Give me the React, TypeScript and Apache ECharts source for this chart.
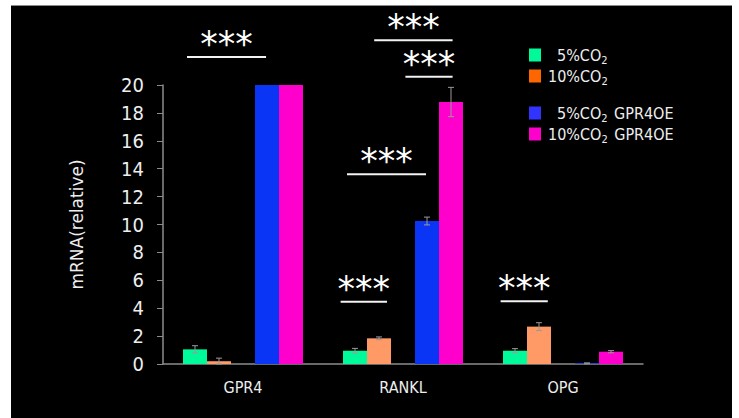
import React, { useEffect, useRef } from "react";
import * as echarts from "echarts";

// mRNA expression (relative) per gene under each culture condition
const categories = ["GPR4", "RANKL", "OPG"];
const seriesNames = ["5%CO2", "10%CO2", "5%CO2 GPR4OE", "10%CO2 GPR4OE"];
const co2Low = [1.05, 0.95, 0.95];
const co2LowErr = [0.26, 0.17, 0.15];
const co2High = [0.2, 1.84, 2.68];
const co2HighErr = [0.22, 0.1, 0.28];
const oeLow = [20, 10.25, 0.05];
const oeLowErr = [0, 0.28, 0.03];
const oeHigh = [20, 18.78, 0.88];
const oeHighErr = [0, 1.05, 0.08];

// significance brackets: category, span (fraction of category band), height
const sigCategory = [0, 1, 1, 1, 1, 2];
const sigFrom = [-0.35, -0.18, 0.015, -0.35, -0.39, -0.39];
const sigTo = [0.144, 0.31, 0.31, 0.144, -0.1, -0.095];
const sigLevel = [22, 23.2, 20.6, 13.6, 4.47, 4.5];
const sigMark = "***";

const yTicks = { min: 0, max: 20, interval: 2 };

const barColors = ["#00FA9A", "#FF9966", "#0B35F5", "#FF00CC"];
const legendColors = ["#00FA9A", "#FF6600", "#3333FF", "#FF00CC"];

const COND = '"DejaVu Sans Condensed", "Liberation Sans Narrow", sans-serif';
const BAR_FRAC = 0.15;

export default function App() {
  const ref = useRef<HTMLDivElement>(null);

  useEffect(() => {
    if (!ref.current) return;
    const chart = echarts.init(ref.current, null, { renderer: "svg" });

    const groups = [
      { vals: co2Low, errs: co2LowErr, slot: 0 },
      { vals: co2High, errs: co2HighErr, slot: 1 },
      { vals: oeLow, errs: oeLowErr, slot: 3 },
      { vals: oeHigh, errs: oeHighErr, slot: 4 },
    ];

    const barSeries: any[] = groups.map((g, i) => ({
      type: "bar",
      name: seriesNames[i],
      data: g.vals,
      barWidth: BAR_FRAC * 100 + "%",
      barGap: "0%",
      itemStyle: { color: barColors[i] },
      z: 2,
    }));
    // empty slot between the control and overexpression pairs
    barSeries.splice(2, 0, {
      type: "bar",
      name: "gap",
      data: categories.map(() => null),
      barWidth: BAR_FRAC * 100 + "%",
      barGap: "0%",
    });

    const errorSeries = groups.map((g) => ({
      type: "custom",
      data: categories.map((_, c) => [c, g.vals[c], g.errs[c]]),
      encode: { x: 0, y: 1 },
      z: 5,
      renderItem: (params: any, api: any) => {
        const cat = api.value(0);
        const v = api.value(1);
        const e = api.value(2);
        if (!e) return null;
        const band = api.size([1, 0])[0];
        const x = api.coord([cat, v])[0] + (g.slot - 2) * band * BAR_FRAC;
        const top = api.coord([cat, v + e])[1];
        const bot = api.coord([cat, Math.max(0, v - e)])[1];
        const st = { stroke: "#9a9a9a", lineWidth: 1 };
        return {
          type: "group",
          children: [
            { type: "line", shape: { x1: x, y1: top, x2: x, y2: bot }, style: st },
            { type: "line", shape: { x1: x - 3, y1: top, x2: x + 3, y2: top }, style: st },
            { type: "line", shape: { x1: x - 3, y1: bot, x2: x + 3, y2: bot }, style: st },
          ],
        };
      },
    }));

    const sigSeries = {
      type: "custom",
      data: sigCategory.map((c, i) => [c, sigFrom[i], sigTo[i], sigLevel[i]]),
      encode: { x: 0, y: 3 },
      z: 6,
      renderItem: (params: any, api: any) => {
        const cat = api.value(0);
        const band = api.size([1, 0])[0];
        const p = api.coord([cat, api.value(3)]);
        const x0 = p[0] + api.value(1) * band;
        const x1 = p[0] + api.value(2) * band;
        return {
          type: "group",
          children: [
            {
              type: "line",
              shape: { x1: x0, y1: p[1], x2: x1, y2: p[1] },
              style: { stroke: "#f2f2f2", lineWidth: 2 },
            },
            {
              type: "text",
              x: (x0 + x1) / 2,
              y: p[1] - 13,
              style: {
                text: sigMark,
                fill: "#ffffff",
                font: '35px "DejaVu Sans", sans-serif',
                align: "center",
                verticalAlign: "middle",
              },
            },
          ],
        };
      },
    };

    const legendText = {
      color: "#eeeeee",
      fontFamily: COND,
      rich: {
        n: { fontSize: 16, lineHeight: 22, fontFamily: COND, color: "#eeeeee", padding: [0, 0, 0, 2] },
        m: { fontSize: 16, lineHeight: 22, fontFamily: COND, color: "#eeeeee", padding: [0, 0, 0, 11] },
        s: { fontSize: 11, lineHeight: 14, fontFamily: COND, color: "#eeeeee", verticalAlign: "bottom" },
      },
    };
    const legendFormatter = (name: string) => {
      const [head, tail] = name.split("CO2");
      const style = head.length < 3 ? "m" : "n";
      return `{${style}|${head}CO}{s|2}` + (tail ? `{n|${tail}}` : "");
    };
    const mkLegend = (names: string[], colors: string[], top: number) => ({
      orient: "vertical",
      left: 529,
      top,
      padding: 0,
      itemWidth: 12,
      itemHeight: 13,
      itemGap: 2,
      icon: "rect",
      selectedMode: false,
      data: names.map((n, i) => ({ name: n, itemStyle: { color: colors[i] } })),
      formatter: legendFormatter,
      textStyle: legendText,
    });

    chart.setOption({
      animation: false,
      backgroundColor: "#ffffff",
      graphic: [
        {
          type: "rect",
          z: -10,
          shape: { x: 11, y: 5, width: 721, height: 413 },
          style: { fill: "#000000" },
        },
        {
          type: "line",
          z: -9,
          shape: { x1: 11, y1: 5.5, x2: 732, y2: 5.5 },
          style: { stroke: "#8a8a8a", lineWidth: 1 },
        },
      ],
      legend: [
        mkLegend(seriesNames.slice(0, 2), legendColors.slice(0, 2), 47),
        mkLegend(seriesNames.slice(2), legendColors.slice(2), 105),
      ],
      grid: { left: 163, right: 96, top: 85, bottom: 54 },
      xAxis: {
        type: "category",
        data: categories,
        axisLine: { lineStyle: { color: "#8c8c8c", width: 1.5 } },
        axisTick: { show: false },
        axisLabel: { color: "#eeeeee", fontFamily: COND, fontSize: 16, margin: 15 },
      },
      yAxis: {
        type: "value",
        min: yTicks.min,
        max: yTicks.max,
        interval: yTicks.interval,
        name: "mRNA(relative)",
        nameLocation: "middle",
        nameRotate: 90,
        nameGap: 78,
        nameTextStyle: { color: "#eeeeee", fontFamily: '"DejaVu Sans", sans-serif', fontSize: 17 },
        splitLine: { show: false },
        axisLine: { show: true, lineStyle: { color: "#8c8c8c", width: 1.5 } },
        axisTick: { show: true, length: 6, lineStyle: { color: "#8c8c8c" } },
        axisLabel: { color: "#eeeeee", fontFamily: COND, fontSize: 20, margin: 19 },
      },
      series: [...barSeries, ...errorSeries, sigSeries],
    });

    return () => chart.dispose();
  }, []);

  return (
    <div style={{ position: "fixed", left: 0, top: 0, width: 739, height: 418, background: "#fff" }}>
      <div ref={ref} style={{ width: 739, height: 418 }} />
    </div>
  );
}
